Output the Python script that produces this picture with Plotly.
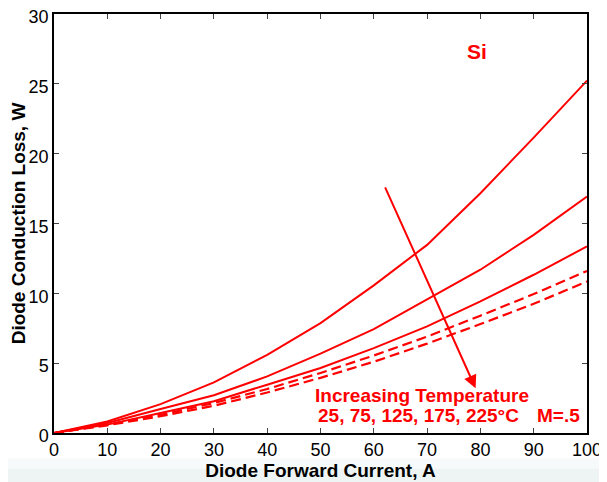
import plotly.graph_objects as go

current = [0, 10, 20, 30, 40, 50, 60, 70, 80, 90, 100]
loss_t1 = [0, 0.83, 2.07, 3.62, 5.6, 7.87, 10.57, 13.47, 17.17, 21.15, 25.23]
loss_t2 = [0, 0.72, 1.72, 2.7, 4.05, 5.68, 7.44, 9.54, 11.69, 14.19, 16.93]
loss_t3 = [0, 0.6, 1.43, 2.27, 3.46, 4.65, 6.08, 7.63, 9.42, 11.33, 13.36]
loss_d1 = [0, 0.6, 1.3, 2.15, 3.15, 4.3, 5.55, 6.9, 8.4, 9.95, 11.6]
loss_d2 = [0, 0.55, 1.2, 1.95, 2.9, 3.95, 5.1, 6.4, 7.8, 9.25, 10.85]

x_ticks = [0, 10, 20, 30, 40, 50, 60, 70, 80, 90, 100]
y_ticks = [0, 5, 10, 15, 20, 25, 30]

RED = "#ff0000"
FONT = "Liberation Sans, Arial, sans-serif"

fig = go.Figure()
for ys in (loss_t1, loss_t2, loss_t3):
    fig.add_trace(go.Scatter(x=current, y=ys, mode="lines",
                             line=dict(color=RED, width=2), showlegend=False))
for ys in (loss_d1, loss_d2):
    fig.add_trace(go.Scatter(x=current, y=ys, mode="lines",
                             line=dict(color=RED, width=2.2, dash="10px,5px"), showlegend=False))

axis_common = dict(
    showline=True, linecolor="black", linewidth=1.5, mirror="allticks",
    ticks="inside", ticklen=5, tickcolor="#444", tickwidth=1,
    showgrid=False, zeroline=False, automargin=False, ticklabeloverflow="allow",
    tickfont=dict(family=FONT, size=18, color="black"),
)
fig.update_xaxes(range=[0, 100], tickvals=x_ticks, **axis_common,
                 title=dict(text="<b>Diode Forward Current, A</b>",
                            font=dict(family=FONT, size=19, color="black"), standoff=0))
fig.update_yaxes(range=[0, 30], tickvals=y_ticks, ticklabelstandoff=0, ticklabelshift=3,
                 **axis_common,
                 title=dict(text="<b>Diode Conduction Loss, W</b>",
                            font=dict(family=FONT, size=19, color="black"), standoff=2))

fig.add_annotation(x=79.1, y=3.2, ax=62, ay=17.7, xref="x", yref="y", axref="x", ayref="y",
                   text="", showarrow=True, arrowhead=2, arrowsize=1.3, arrowwidth=2,
                   arrowcolor=RED)
fig.add_annotation(x=79.4, y=27.3, text="<b>Si</b>", showarrow=False,
                   font=dict(family=FONT, size=21, color=RED))
fig.add_annotation(x=69.0, y=2.65, text="<b>Increasing Temperature</b>", showarrow=False,
                   font=dict(family=FONT, size=19, color=RED))
fig.add_annotation(x=68.3, y=1.27, text="<b>25, 75, 125, 175, 225°C</b>", showarrow=False,
                   font=dict(family=FONT, size=19, color=RED))
fig.add_annotation(x=94.7, y=1.27, text="<b>M=.5</b>", showarrow=False,
                   font=dict(family=FONT, size=19, color=RED))

# faint band at the bottom of the picture
fig.add_shape(type="rect", xref="paper", yref="paper", x0=-0.2, x1=1.1, y0=-0.06, y1=-0.085,
              fillcolor="#f7fafa", line_width=0, layer="below")
fig.add_shape(type="rect", xref="paper", yref="paper", x0=-0.2, x1=1.1, y0=-0.085, y1=-0.2,
              fillcolor="#eef4f4", line_width=0, layer="below")

# the page shows the figure 8px in from the top-left corner
fig.update_layout(
    width=599, height=474,
    margin=dict(l=46, r=20, t=6, b=49),
    paper_bgcolor="white", plot_bgcolor="white",
    showlegend=False,
)
fig.write_html("out.html")
